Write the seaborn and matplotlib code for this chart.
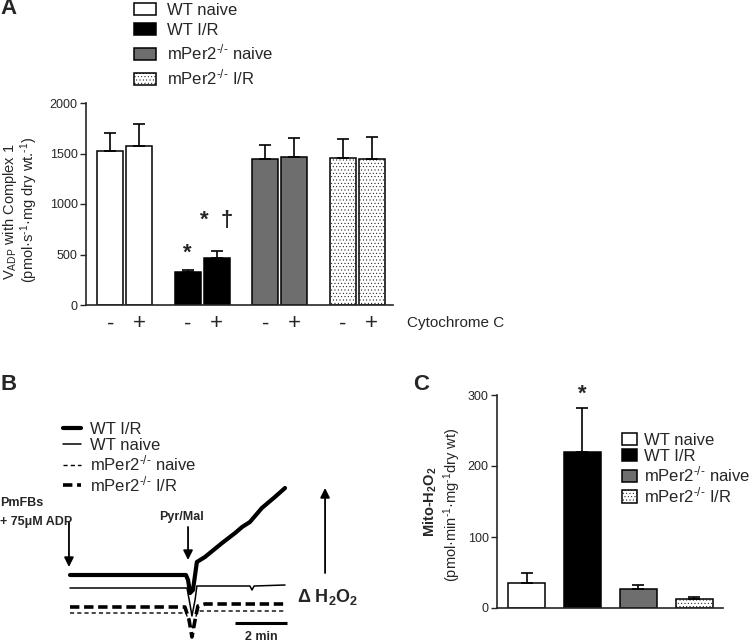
import numpy as np
import pandas as pd
import matplotlib
matplotlib.use('Agg')
import matplotlib.pyplot as plt
from matplotlib.patches import Patch
from matplotlib.lines import Line2D
import seaborn as sns

# ---- Panel A: V_ADP with complex 1, -/+ cytochrome C
groups = ['WT naive', 'WT I/R', 'mPer2 naive', 'mPer2 I/R']
cyto = ['-', '+']
vadp_mean = [1520, 1578, 330, 468, 1448, 1468, 1455, 1448]
vadp_sem = [180, 212, 12, 70, 132, 182, 185, 212]

# ---- Panel C: mito H2O2
h2o2_mean = [35, 220, 27, 12.5]
h2o2_sem = [14, 61, 5, 2.5]

# ---- Panel B: representative traces (time in min, signal in arbitrary units)
t_wt_ir = [0, 4.46, 4.54, 4.62, 4.73, 4.88, 5.19, 5.85, 6.35, 6.62, 6.92, 7.38, 7.88, 8.27]
s_wt_ir = [25, 25, 20, 7, 10, 38, 43, 57, 67, 73, 78, 92, 103, 112]
t_wt_naive = [0, 4.50, 4.62, 4.69, 4.81, 4.88, 6.92, 7.00, 7.08, 8.27]
s_wt_naive = [12, 12, -5, -16, 0, 14, 14, 10, 14, 15]
t_ko_naive = [0, 4.46, 4.62, 4.73, 4.88, 5.00, 8.27]
s_ko_naive = [-13, -13, -25, -28, -13, -11, -11]
t_ko_ir = [0, 4.42, 4.58, 4.69, 4.81, 4.92, 5.19, 8.27]
s_ko_ir = [-7, -7, -20, -37, -20, -6, -4, -4]

sns.set_style('ticks')
plt.rcParams['font.family'] = ['Liberation Sans', 'DejaVu Sans']
plt.rcParams['mathtext.fontset'] = 'custom'
plt.rcParams['mathtext.rm'] = 'Liberation Sans'
plt.rcParams['mathtext.it'] = 'Liberation Sans:italic'
plt.rcParams['mathtext.bf'] = 'Liberation Sans:bold'
plt.rcParams['hatch.linewidth'] = 0.3

W, H = 750, 642
fig = plt.figure(figsize=(7.5, 6.42), dpi=100)

def fx(px):
    return px / W

def fy(py):
    return 1 - py / H

gray = '#6e6e6e'
group_colors = ['white', 'black', gray, 'white']
group_hatch = [None, None, None, '.....']
ko = 'mPer2$^{\\text{-/-}}$'
legend_labels = ['WT naive', 'WT I/R', ko + ' naive', ko + ' I/R']

# ================= Panel A =================
axA = fig.add_axes([fx(86), fy(305), fx(393 - 86), (305 - 103) / H])
dfA = pd.DataFrame({
    'group': np.repeat(groups, 2),
    'cyto': cyto * 4,
    'value': vadp_mean,
})
sns.barplot(data=dfA, x='group', y='value', hue='cyto', order=groups, hue_order=cyto,
            palette=['white', 'white'], edgecolor='black', linewidth=1.1,
            width=0.75, gap=0.1, errorbar=None, legend=False, ax=axA)
barsA = sorted(axA.patches, key=lambda p: p.get_x())
centersA = []
for i, bar in enumerate(barsA):
    g = i // 2
    bar.set_facecolor(group_colors[g])
    if group_hatch[g]:
        bar.set_hatch(group_hatch[g])
    centersA.append(bar.get_x() + bar.get_width() / 2)
axA.errorbar(centersA, vadp_mean, yerr=[np.zeros(8), vadp_sem], fmt='none',
             ecolor='black', elinewidth=1.2, capsize=4, capthick=1.2)
axA.set_xlim(-0.5, 3.46)
axA.set_ylim(0, 2000)
axA.set_yticks([0, 500, 1000, 1500, 2000])
axA.set_xticks(centersA)
axA.set_xticklabels(cyto * 4, fontsize=16)
axA.tick_params(axis='x', length=0, pad=6)
axA.tick_params(axis='y', labelsize=9, length=4, width=1, pad=2)
axA.set_xlabel('')
axA.set_ylabel('')
sns.despine(ax=axA)
for s in ['left', 'bottom']:
    axA.spines[s].set_linewidth(1.2)
axA.text(centersA[2], 510, '*', ha='center', va='center', fontsize=16, fontweight='bold')
axA.text(centersA[3], 840, '*  \u2020', ha='center', va='center', fontsize=16, fontweight='bold')
fig.text(fx(10), fy(212), 'V$_{\\mathrm{ADP}}$ with Complex 1', rotation=90,
         ha='center', va='center', fontsize=10.5)
fig.text(fx(29), fy(210), '(pmol\u00b7s$^{\\text{-1}}$\u00b7mg dry wt.$^{\\text{-1}}$)', rotation=90,
         ha='center', va='center', fontsize=10.5)
fig.text(fx(407), fy(323), 'Cytochrome C', ha='left', va='center', fontsize=11)
fig.text(fx(0), fy(9), 'A', ha='left', va='center', fontsize=16, fontweight='bold')

handles = [Patch(facecolor=c, edgecolor='black', hatch=h, linewidth=1.1)
           for c, h in zip(group_colors, group_hatch)]
fig.legend(handles, legend_labels, loc='upper left', bbox_to_anchor=(fx(134), fy(3)),
           frameon=False, fontsize=12, borderpad=0, borderaxespad=0,
           handlelength=1.3, handleheight=0.75, handletextpad=0.7, labelspacing=0.3)

# ================= Panel B =================
axB = fig.add_axes([0, 0, fx(380), 302 / H])
sns.lineplot(x=t_wt_ir, y=s_wt_ir, color='black', lw=3.0, estimator=None, sort=False, ax=axB)
sns.lineplot(x=t_wt_naive, y=s_wt_naive, color='black', lw=1.1, estimator=None, sort=False, ax=axB)
sns.lineplot(x=t_ko_naive, y=s_ko_naive, color='black', lw=1.0, linestyle=(0, (3, 2.2)),
             estimator=None, sort=False, ax=axB)
sns.lineplot(x=t_ko_ir, y=s_ko_ir, color='black', lw=2.6, linestyle=(0, (2.6, 1.3)),
             estimator=None, sort=False, ax=axB)
axB.set_xlim(-70 / 26, 310 / 26)
axB.set_ylim(-42, 260)
axB.axis('off')

arrow = dict(arrowstyle='-|>', color='black', lw=1.3, mutation_scale=14, shrinkA=0, shrinkB=0)
axB.annotate('', xy=(-0.04, 33), xytext=(-0.04, 78), arrowprops=arrow)
axB.annotate('', xy=(4.54, 40), xytext=(4.54, 73), arrowprops=arrow)
axB.annotate('', xy=(9.81, 112), xytext=(9.81, 27), arrowprops=arrow)
axB.text(-2.69, 97, 'PmFBs', ha='left', va='center', fontsize=9, fontweight='bold')
axB.text(-2.69, 78, '+ 75\u03bcM ADP', ha='left', va='center', fontsize=9, fontweight='bold')
axB.text(4.27, 83, 'Pyr/Mal', ha='center', va='center', fontsize=9, fontweight='bold')
axB.text(8.73, 3, '\u0394 H$_\\mathbf{2}$O$_\\mathbf{2}$', ha='left', va='center',
         fontsize=13, fontweight='bold')
axB.plot([6.35, 8.35], [-23, -23], color='black', lw=2.2, solid_capstyle='butt')
axB.text(7.35, -37, '2 min', ha='center', va='center', fontsize=9, fontweight='bold')
fig.text(fx(0), fy(385), 'B', ha='left', va='center', fontsize=16, fontweight='bold')

hB = [Line2D([], [], color='black', lw=3.0),
      Line2D([], [], color='black', lw=1.1),
      Line2D([], [], color='black', lw=1.0, linestyle=(0, (3, 2.2))),
      Line2D([], [], color='black', lw=2.6, linestyle=(0, (2.6, 1.3)))]
axB.legend(hB, ['WT I/R', 'WT naive', ko + ' naive', ko + ' I/R'], loc='upper left',
           bbox_to_anchor=(fx(63) / fx(380), (642 - 422) / 302), frameon=False, fontsize=12,
           borderpad=0, borderaxespad=0, handlelength=1.05, handletextpad=0.55, labelspacing=0.05)

# ================= Panel C =================
axC = fig.add_axes([fx(497), fy(608), fx(723 - 497), (608 - 395) / H])
dfC = pd.DataFrame({'group': groups, 'value': h2o2_mean})
sns.barplot(data=dfC, x='group', y='value', hue='group', order=groups, hue_order=groups,
            palette=group_colors, edgecolor='black', linewidth=1.1, width=0.66,
            errorbar=None, legend=False, ax=axC)
barsC = sorted(axC.patches, key=lambda p: p.get_x())
centersC = []
for i, bar in enumerate(barsC):
    if group_hatch[i]:
        bar.set_hatch(group_hatch[i])
    centersC.append(bar.get_x() + bar.get_width() / 2)
axC.errorbar(centersC, h2o2_mean, yerr=[np.zeros(4), h2o2_sem], fmt='none',
             ecolor='black', elinewidth=1.2, capsize=4, capthick=1.2)
axC.set_xlim(-0.527, 3.51)
axC.set_ylim(0, 300)
axC.set_yticks([0, 100, 200, 300])
axC.set_xticks([])
axC.tick_params(axis='y', labelsize=9, length=4, width=1, pad=2)
axC.set_xlabel('')
axC.set_ylabel('')
sns.despine(ax=axC)
for s in ['left', 'bottom']:
    axC.spines[s].set_linewidth(1.2)
axC.text(centersC[1], 301, '*', ha='center', va='center', fontsize=16, fontweight='bold')
fig.text(fx(430), fy(502), 'Mito-H$_\\mathbf{2}$O$_\\mathbf{2}$', rotation=90,
         ha='center', va='center', fontsize=10.5, fontweight='bold')
fig.text(fx(452), fy(505), '(pmol\u00b7min$^{\\text{-1}}$\u00b7mg$^{\\text{-1}}$dry wt)', rotation=90,
         ha='center', va='center', fontsize=10.5)
fig.text(fx(413), fy(385), 'C', ha='left', va='center', fontsize=16, fontweight='bold')

fig.legend(handles, legend_labels, loc='upper left', bbox_to_anchor=(fx(622), fy(433)),
           frameon=False, fontsize=12, borderpad=0, borderaxespad=0,
           handlelength=0.9, handleheight=0.75, handletextpad=0.45, labelspacing=0.05)

fig.savefig('out.png', dpi=100)
